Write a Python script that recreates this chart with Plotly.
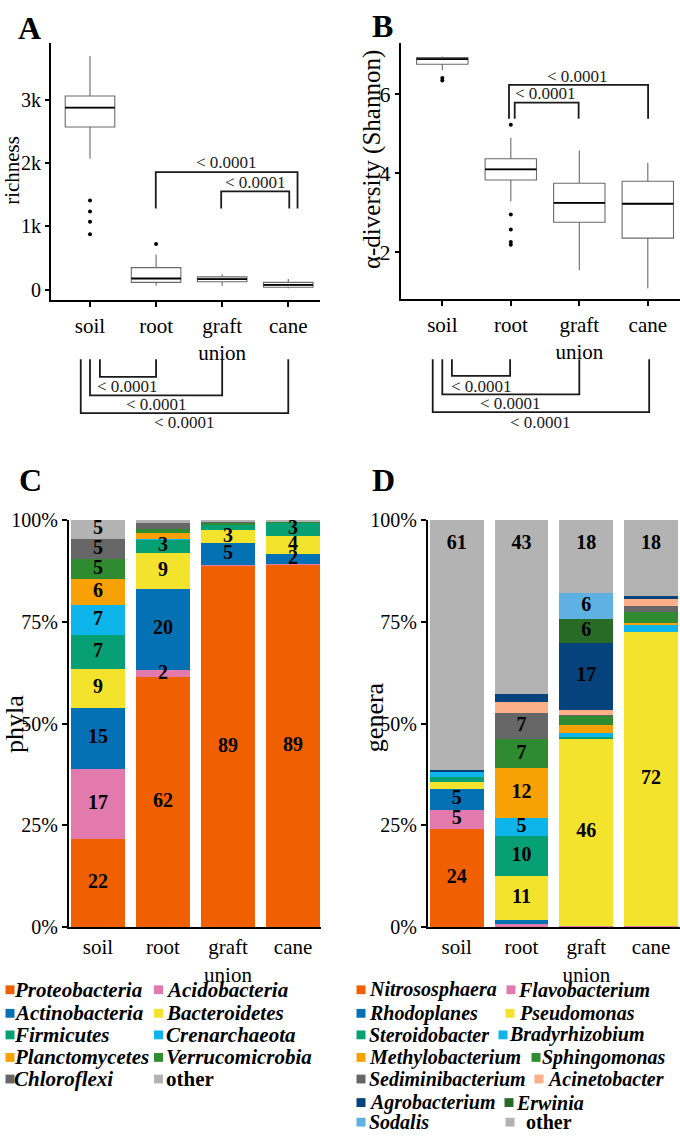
import numpy as np
import plotly.graph_objects as go

W, H = 680, 1142

# ---------------- data ----------------
groups = ["soil", "root", "graft union", "cane"]
group_ticks = ["soil", "root", "graft<br>union", "cane"]

# Panel A: richness (box statistics)
rich_q1 = [2569, 113, 124, 36]
rich_med = [2873, 175, 166, 73]
rich_q3 = [3059, 346, 200, 113]
rich_lo = [2067, 62, 62, 20]
rich_hi = [3690, 553, 243, 166]
rich_out_g = [0, 0, 0, 0, 1]
rich_out_v = [1406, 1235, 1070, 873, 718]

# Panel B: Shannon diversity (box statistics)
sh_q1 = [6.75, 3.82, 2.75, 2.35]
sh_med = [6.88, 4.09, 3.24, 3.22]
sh_q3 = [6.92, 4.36, 3.74, 3.79]
sh_lo = [6.60, 3.28, 1.54, 1.08]
sh_hi = [6.95, 4.89, 4.57, 4.25]
sh_out_g = [0, 0, 1, 1, 1, 1, 1]
sh_out_v = [6.40, 6.34, 5.22, 2.95, 2.57, 2.25, 2.18]

p_label = "< 0.0001"

# Panel C: phyla relative abundance (%), order soil, root, graft union, cane
phyla = ["Proteobacteria", "Acidobacteria", "Actinobacteria", "Bacteroidetes",
         "Firmicutes", "Crenarchaeota", "Planctomycetes", "Verrucomicrobia",
         "Chloroflexi", "other"]
proteobacteria = [21.7, 61.4, 88.7, 89.0]
acidobacteria = [17.2, 1.7, 0.3, 0.3]
actinobacteria = [15.0, 20.0, 5.3, 2.4]
bacteroidetes = [9.5, 8.8, 3.2, 4.3]
firmicutes = [8.4, 3.4, 1.4, 3.4]
crenarchaeota = [7.2, 0.1, 0.0, 0.0]
planctomycetes = [6.4, 1.4, 0.1, 0.0]
verrucomicrobia = [4.9, 1.1, 0.4, 0.3]
chloroflexi = [5.1, 1.3, 0.3, 0.0]
phyla_other = [4.6, 0.8, 0.3, 0.3]
phyla_values = [proteobacteria, acidobacteria, actinobacteria, bacteroidetes,
                firmicutes, crenarchaeota, planctomycetes, verrucomicrobia,
                chloroflexi, phyla_other]
phyla_labels = [["22", "62", "89", "89"], ["17", "2", "", ""], ["15", "20", "5", "2"],
                ["9", "9", "3", "4"], ["7", "3", "", "3"], ["7", "", "", ""],
                ["6", "", "", ""], ["5", "", "", ""], ["5", "", "", ""], ["5", "", "", ""]]

# Panel D: genera relative abundance (%)
genera = ["Nitrososphaera", "Flavobacterium", "Rhodoplanes", "Pseudomonas",
          "Steroidobacter", "Bradyrhizobium", "Methylobacterium", "Sphingomonas",
          "Sediminibacterium", "Acinetobacter", "Agrobacterium", "Erwinia",
          "Sodalis", "other"]
nitrososphaera = [24.2, 0.0, 0.0, 0.0]
flavobacterium = [4.6, 0.7, 0.3, 0.3]
rhodoplanes = [5.1, 1.1, 0.0, 0.0]
pseudomonas = [1.8, 10.7, 46.0, 72.3]
steroidobacter = [1.2, 9.8, 0.3, 0.0]
bradyrhizobium = [1.3, 4.5, 1.1, 1.7]
methylobacterium = [0.0, 12.2, 1.9, 0.4]
sphingomonas = [0.0, 7.1, 2.4, 2.7]
sediminibacterium = [0.0, 6.4, 0.2, 1.4]
acinetobacter = [0.0, 2.9, 1.0, 1.8]
agrobacterium = [0.4, 1.8, 16.7, 0.8]
erwinia = [0.0, 0.0, 5.8, 0.0]
sodalis = [0.0, 0.0, 6.3, 0.0]
genera_other = [61.4, 42.8, 18.0, 18.6]
genera_values = [nitrososphaera, flavobacterium, rhodoplanes, pseudomonas,
                 steroidobacter, bradyrhizobium, methylobacterium, sphingomonas,
                 sediminibacterium, acinetobacter, agrobacterium, erwinia,
                 sodalis, genera_other]
genera_labels = [["24", "", "", ""], ["5", "", "", ""], ["5", "", "", ""],
                 ["", "11", "46", "72"], ["", "10", "", ""], ["", "5", "", ""],
                 ["", "12", "", ""], ["", "7", "", ""], ["", "7", "", ""],
                 ["", "", "", ""], ["", "", "17", ""], ["", "", "6", ""],
                 ["", "", "6", ""], ["61", "43", "18", "18"]]

# ---------------- styles ----------------
SERIF = "Liberation Serif, Times New Roman, serif"
phyla_colors = ["#F06000", "#E27AAE", "#0571B5", "#F4E32D", "#07A075",
                "#0DB5EA", "#F7A104", "#2F8B2F", "#666666", "#B3B3B3"]
genera_colors = ["#F06000", "#E27AAE", "#0571B5", "#F4E32D", "#07A075",
                 "#0DB5EA", "#F7A104", "#2F8B2F", "#666666", "#FBB08A",
                 "#06427C", "#276B27", "#5EB1E2", "#B3B3B3"]

# axis geometry in pixels: (x0, x1), (ytop, ybottom), ranges
geo = {
    "A": dict(px=(51, 320), py=(33, 295), xr=(-0.59, 3.48), yr=(-170, 3890)),
    "B": dict(px=(401, 680), py=(33, 294), xr=(-0.603, 3.47), yr=(0.80, 7.28)),
    "C": dict(px=(69, 321), py=(519, 934), xr=(-0.446, 3.43), yr=(0, 100)),
    "D": dict(px=(428, 680), py=(519, 934), xr=(-0.443, 3.446), yr=(0, 100)),
}


def xdom(g):
    return [g["px"][0] / W, g["px"][1] / W]


def ydom(g):
    return [1 - g["py"][1] / H, 1 - g["py"][0] / H]


def xpaper(g, v):
    d = xdom(g)
    return d[0] + (v - g["xr"][0]) / (g["xr"][1] - g["xr"][0]) * (d[1] - d[0])


def ypaper(p):
    return 1 - p / H


fig = go.Figure()
xpos = np.arange(len(groups))
BOXW = 0.75


def add_box(q1, med, q3, lo, hi, og, ov, xa, ya):
    fig.add_trace(go.Box(x=xpos, q1=q1, median=med, q3=q3, lowerfence=lo, upperfence=hi,
                         width=BOXW, whiskerwidth=0, boxpoints=False,
                         fillcolor="white", line=dict(color="#6a6a6a", width=1.1),
                         xaxis=xa, yaxis=ya, showlegend=False, hoverinfo="skip"))
    mx, my = [], []
    for i, m in enumerate(med):
        mx += [i - BOXW / 2, i + BOXW / 2, None]
        my += [m, m, None]
    fig.add_trace(go.Scatter(x=mx, y=my, mode="lines", line=dict(color="black", width=1.8),
                             xaxis=xa, yaxis=ya, showlegend=False, hoverinfo="skip"))
    fig.add_trace(go.Scatter(x=og, y=ov, mode="markers",
                             marker=dict(color="black", size=4),
                             xaxis=xa, yaxis=ya, showlegend=False, hoverinfo="skip"))


add_box(rich_q1, rich_med, rich_q3, rich_lo, rich_hi, rich_out_g, rich_out_v, "x", "y")
add_box(sh_q1, sh_med, sh_q3, sh_lo, sh_hi, sh_out_g, sh_out_v, "x2", "y2")


def add_stack(names, values, labels, colors, xa, ya, other_top=False):
    base = np.zeros(len(groups))
    tx, ty, tt = [], [], []
    for name, vals, labs, col in zip(names, values, labels, colors):
        vals = np.array(vals, dtype=float)
        fig.add_trace(go.Bar(x=xpos, y=vals, name=name, marker=dict(color=col, line=dict(width=0)),
                             xaxis=xa, yaxis=ya, showlegend=False, hoverinfo="skip"))
        for i in range(len(groups)):
            if labs[i]:
                tx.append(i)
                if other_top and name == "other":
                    ty.append(base[i] + vals[i] - 5.8)
                else:
                    ty.append(base[i] + vals[i] / 2)
                tt.append(labs[i])
        base = base + vals
    fig.add_trace(go.Scatter(x=tx, y=ty, text=tt, mode="text",
                             textfont=dict(family=SERIF, size=20, color="black", weight="bold"),
                             xaxis=xa, yaxis=ya, showlegend=False, hoverinfo="skip",
                             cliponaxis=False))


add_stack(phyla, phyla_values, phyla_labels, phyla_colors, "x3", "y3")
add_stack(genera, genera_values, genera_labels, genera_colors, "x4", "y4", other_top=True)

axis_common = dict(showline=True, linecolor="black", linewidth=2, showgrid=False,
                   zeroline=False, ticks="outside", tickcolor="black",
                   tickfont=dict(family=SERIF, size=20, color="black"))

layout = dict(width=W, height=H, margin=dict(l=0, r=0, t=0, b=0),
              paper_bgcolor="white", plot_bgcolor="white", barmode="stack",
              bargap=0.17, showlegend=False)

for key, sfx in zip("ABCD", ["", "2", "3", "4"]):
    g = geo[key]
    xa = dict(axis_common, domain=xdom(g), range=list(g["xr"]), anchor="y" + sfx,
              tickvals=list(xpos), ticktext=group_ticks,
              tickfont=dict(family=SERIF, size=21, color="black"))
    ya = dict(axis_common, domain=ydom(g), range=list(g["yr"]), anchor="x" + sfx)
    if key in "AB":
        xa.update(ticklen=5, tickwidth=1.5)
        ya.update(ticklen=4, tickwidth=1.5)
    else:
        xa.update(ticks="", ticklen=0)
        ya.update(ticklen=5, tickwidth=1.5, tickvals=[0, 25, 50, 75, 100],
                  ticktext=["0%", "25%", "50%", "75%", "100%"])
    if key == "A":
        ya.update(tickvals=[0, 1000, 2000, 3000], ticktext=["0", "1k", "2k", "3k"])
    if key == "B":
        ya.update(tickvals=[2, 4, 6], ticktext=["2", "4", "6"],
                  tickfont=dict(family=SERIF, size=22, color="black"))
    layout["xaxis" + sfx] = xa
    layout["yaxis" + sfx] = ya

fig.update_layout(**layout)

shapes, annos = [], []
LINE = dict(color="#1a1a1a", width=1.8)
PFONT = dict(family=SERIF, size=17, color="#1a1a1a")

# top brackets (data coordinates)
top_br = [
    # (x axis, y axis, x_left, x_right, y_bar, y_leg_bottom, text_x, text_y)
    ("x", "y", 0.995, 3.14, 1856, 1280, 2.07, 2000),
    ("x", "y", 1.985, 3.015, 1550, 1280, 2.5, 1690),
    ("x2", "y2", 0.974, 3.004, 6.23, 5.37, 1.98, 6.44),
    ("x2", "y2", 1.057, 1.99, 5.78, 5.37, 1.51, 6.01),
]
for xr_, yr_, xl, xrr, yb, yl, tx, ty in top_br:
    shapes.append(dict(type="path", xref=xr_, yref=yr_, line=LINE,
                       path=f"M {xl},{yl} L {xl},{yb} L {xrr},{yb} L {xrr},{yl}"))
    annos.append(dict(xref=xr_, yref=yr_, x=tx, y=ty, text=p_label, showarrow=False,
                      font=PFONT, xanchor="center", yanchor="middle"))

# bottom brackets (below x axis)
bot_br = [
    ("A", 0.15, 1.0, 373, 383), ("A", 0.0, 2.0, 392, 401), ("A", -0.14, 3.0, 410, 420),
    ("B", 0.14, 0.99, 372, 383), ("B", 0.0, 2.0, 391, 400), ("B", -0.14, 3.02, 409, 420),
]
for key, xl, xrr, yb, ty in bot_br:
    g = geo[key]
    x0, x1 = xpaper(g, xl), xpaper(g, xrr)
    y0, y1 = ypaper(355), ypaper(yb)
    shapes.append(dict(type="path", xref="paper", yref="paper", line=LINE,
                       path=f"M {x0},{y0} L {x0},{y1} L {x1},{y1} L {x1},{y0}"))
    annos.append(dict(xref="paper", yref="paper", x=(x0 + x1) / 2, y=ypaper(ty),
                      text=p_label, showarrow=False, font=PFONT,
                      xanchor="center", yanchor="middle"))

# panel letters
for letter, px_, py_ in [("A", 29, 17), ("B", 382, 15), ("C", 30, 478), ("D", 383, 478)]:
    annos.append(dict(xref="paper", yref="paper", x=px_ / W, y=ypaper(py_), text=f"<b>{letter}</b>",
                      showarrow=False, font=dict(family=SERIF, size=32, color="black"),
                      xanchor="center", yanchor="middle"))

# axis titles
for txt, px_, py_, size in [("richness", 12, 163, 21), ("α-diversity (Shannon)", 372, 152, 25),
                            ("phyla", 15, 727, 26), ("genera", 374, 720, 26)]:
    annos.append(dict(xref="paper", yref="paper", x=px_ / W, y=ypaper(py_), text=txt,
                      textangle=-90, showarrow=False,
                      font=dict(family=SERIF, size=size, color="black"),
                      xanchor="center", yanchor="middle"))


# manual legends (two columns; right column position per row)
def add_legend(names, colors, sq_pos, tx_pos, rows_y, size, sq):
    for k, (nm, col) in enumerate(zip(names, colors)):
        c = k % 2
        r = k // 2
        yc = rows_y[r]
        xs = sq_pos[c][r]
        shapes.append(dict(type="rect", xref="paper", yref="paper",
                           x0=(xs - sq / 2) / W, x1=(xs + sq / 2) / W,
                           y0=ypaper(yc + sq / 2), y1=ypaper(yc - sq / 2),
                           fillcolor=col, line=dict(width=0)))
        label = "<b>other</b>" if nm == "other" else f"<b><i>{nm}</i></b>"
        annos.append(dict(xref="paper", yref="paper", x=tx_pos[c][r] / W, y=ypaper(yc),
                          text=label, showarrow=False,
                          font=dict(family=SERIF, size=size, color="black"),
                          xanchor="left", yanchor="middle"))


add_legend(phyla, phyla_colors,
           ([10] * 5, [158.5] * 5),
           ([12] * 5, [164] * 5),
           [998, 1022, 1044, 1067, 1089], 21, 9)
add_legend(genera, genera_colors,
           ([361] * 7, [511, 510, 503, 536, 539, 509, 510]),
           ([367] * 7, [516, 517, 507, 540, 545, 514, 524]),
           [998, 1022, 1044, 1067, 1089, 1113, 1133], 20, 9)

fig.update_layout(shapes=shapes, annotations=annos)
fig.write_html("out.html", config={"displayModeBar": False},
               post_script="document.body.style.margin='0';document.body.style.overflow='hidden';")
